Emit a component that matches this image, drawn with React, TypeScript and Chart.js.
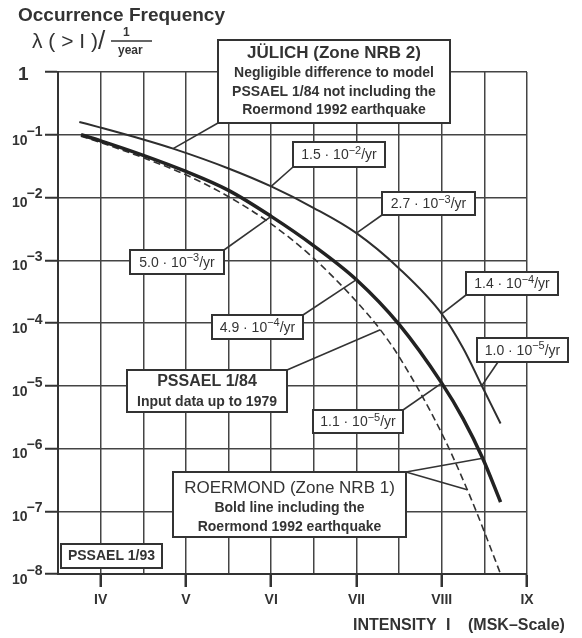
import React, { useEffect, useRef } from "react";
import { Chart, registerables } from "chart.js";

Chart.register(...registerables);

// ---- data ----
const intensityTicks = [4, 5, 6, 7, 8, 9];
const intensityLabels = ["IV", "V", "VI", "VII", "VIII", "IX"];
const decadeTicks = [1, 1e-1, 1e-2, 1e-3, 1e-4, 1e-5, 1e-6, 1e-7, 1e-8];
const decadeExponents = [0, -1, -2, -3, -4, -5, -6, -7, -8];

// JÜLICH (Zone NRB 2)
const julichI = [3.75, 4.0, 4.5, 4.85, 5.5, 6.0, 6.5, 7.0, 7.5, 8.0, 8.25, 8.47, 8.69];
const julichF = [1.6e-1, 1.3e-1, 8.4e-2, 6.0e-2, 2.9e-2, 1.5e-2, 6.8e-3, 2.7e-3, 7.4e-4, 1.4e-4, 4.0e-5, 1.0e-5, 2.5e-6];

// ROERMOND (Zone NRB 1) – bold line
const roermondI = [3.77, 4.0, 4.5, 5.0, 5.5, 6.0, 6.5, 7.0, 7.5, 8.0, 8.25, 8.48, 8.69];
const roermondF = [1.0e-1, 8.0e-2, 4.7e-2, 2.6e-2, 1.3e-2, 5.0e-3, 1.7e-3, 4.9e-4, 9.5e-5, 1.1e-5, 3.0e-6, 7.0e-7, 1.4e-7];

// PSSAEL 1/84 – dashed line
const pssaelI = [3.77, 4.0, 4.5, 5.0, 5.5, 6.0, 6.5, 7.0, 7.28, 7.5, 8.0, 8.3, 8.5, 8.69];
const pssaelF = [9.5e-2, 7.5e-2, 4.3e-2, 2.3e-2, 1.03e-2, 3.8e-3, 1.07e-3, 2.2e-4, 7.8e-5, 2.9e-5, 1.75e-6, 2.2e-7, 4.7e-8, 1.0e-8];

const seriesMap: Record<string, { i: number[]; f: number[] }> = {
  julich: { i: julichI, f: julichF },
  roermond: { i: roermondI, f: roermondF },
  pssael: { i: pssaelI, f: pssaelF },
};

const FONT = '"Liberation Sans", Arial, Helvetica, sans-serif';
const INK = "#333";

// value annotation boxes (text derived from the data value)
const valueBoxes = [
  { series: "julich", index: 5, box: [293, 142, 385, 167], from: [293, 167] },
  { series: "julich", index: 7, box: [382, 192, 475, 215], from: [382, 215] },
  { series: "julich", index: 9, box: [466, 272, 558, 295], from: [466, 295] },
  { series: "julich", index: 11, box: [477, 338, 568, 362], from: [498, 362] },
  { series: "roermond", index: 5, box: [130, 250, 224, 274], from: [224, 250] },
  { series: "roermond", index: 7, box: [212, 315, 303, 339], from: [303, 315] },
  { series: "roermond", index: 9, box: [313, 410, 403, 433], from: [403, 410] },
];

const textBoxes = [
  {
    box: [218, 40, 450, 123],
    lines: [
      { t: "JÜLICH (Zone NRB 2)", font: `bold 17px ${FONT}`, y: 53 },
      { t: "Negligible difference to model", font: `bold 14px ${FONT}`, y: 73 },
      { t: "PSSAEL 1/84 not including the", font: `bold 14px ${FONT}`, y: 92 },
      { t: "Roermond 1992 earthquake", font: `bold 14px ${FONT}`, y: 110 },
    ],
    leaders: [{ from: [218, 123], series: "julich", index: 3 }],
  },
  {
    box: [127, 370, 287, 412],
    lines: [
      { t: "PSSAEL 1/84", font: `bold 16px ${FONT}`, y: 382 },
      { t: "Input data up to 1979", font: `bold 14px ${FONT}`, y: 402 },
    ],
    leaders: [{ from: [287, 370], series: "pssael", index: 8 }],
  },
  {
    box: [173, 472, 406, 537],
    lines: [
      { t: "ROERMOND (Zone NRB 1)", font: `17px ${FONT}`, y: 488 },
      { t: "Bold line including the", font: `bold 14px ${FONT}`, y: 508 },
      { t: "Roermond 1992 earthquake", font: `bold 14px ${FONT}`, y: 527 },
    ],
    leaders: [
      { from: [406, 472], series: "roermond", index: 11 },
      { from: [406, 472], series: "pssael", index: 11 },
    ],
  },
  {
    box: [61, 544, 162, 568],
    lines: [{ t: "PSSAEL 1/93", font: `bold 14px ${FONT}`, y: 556 }],
    leaders: [],
  },
];

type Part = { t: string; font: string; dy: number };

function drawParts(ctx: CanvasRenderingContext2D, parts: Part[], x: number, y: number, align: "left" | "center") {
  let total = 0;
  const widths = parts.map((p) => {
    ctx.font = p.font;
    const w = ctx.measureText(p.t).width;
    total += w;
    return w;
  });
  let cx = align === "center" ? x - total / 2 : x;
  ctx.textAlign = "left";
  ctx.textBaseline = "middle";
  parts.forEach((p, k) => {
    ctx.font = p.font;
    ctx.fillText(p.t, cx, y + p.dy);
    cx += widths[k];
  });
}

function valueParts(v: number): Part[] {
  const [m, e] = v.toExponential(1).split("e");
  const exp = parseInt(e, 10);
  return [
    { t: `${m} · 10`, font: `14px ${FONT}`, dy: 0 },
    { t: `\u2212${Math.abs(exp)}`, font: `11px ${FONT}`, dy: -5 },
    { t: "/yr", font: `14px ${FONT}`, dy: 0 },
  ];
}

const overlayPlugin = {
  id: "overlay",
  afterDraw(chart: any) {
    const ctx: CanvasRenderingContext2D = chart.ctx;
    const xs = chart.scales.x;
    const ys = chart.scales.y;
    const pt = (series: string, index: number) => {
      const s = seriesMap[series];
      return [xs.getPixelForValue(s.i[index]), ys.getPixelForValue(s.f[index])];
    };
    ctx.save();
    ctx.fillStyle = INK;
    ctx.strokeStyle = INK;

    // y tick labels
    decadeTicks.forEach((v, k) => {
      const y = ys.getPixelForValue(v);
      const exp = decadeExponents[k];
      if (exp === 0) {
        drawParts(ctx, [{ t: "1", font: `bold 19px ${FONT}`, dy: 0 }], 18, y + 3, "left");
      } else {
        ctx.font = `bold 14px ${FONT}`;
        const w = ctx.measureText("10").width;
        drawParts(ctx, [{ t: "10", font: `bold 14px ${FONT}`, dy: 0 }], 12, y + 6, "left");
        drawParts(ctx, [{ t: `\u2212${Math.abs(exp)}`, font: `bold 14px ${FONT}`, dy: 0 }], 12 + w - 1, y - 3, "left");
      }
    });

    // y-axis title
    drawParts(ctx, [{ t: "Occurrence Frequency", font: `bold 19px ${FONT}`, dy: 0 }], 18, 16, "left");
    drawParts(ctx, [{ t: "λ ( > I )", font: `21px ${FONT}`, dy: 0 }], 32, 42, "left");
    drawParts(ctx, [{ t: "/", font: `26px ${FONT}`, dy: 0 }], 98, 42, "left");
    drawParts(ctx, [{ t: "1", font: `bold 12px ${FONT}`, dy: 0 }], 123, 33, "left");
    ctx.lineWidth = 1.5;
    ctx.beginPath();
    ctx.moveTo(111, 41);
    ctx.lineTo(152, 41);
    ctx.stroke();
    drawParts(ctx, [{ t: "year", font: `bold 12px ${FONT}`, dy: 0 }], 118, 51, "left");

    // x-axis title
    drawParts(ctx, [{ t: "INTENSITY", font: `bold 16px ${FONT}`, dy: 0 }], 353, 626, "left");
    drawParts(ctx, [{ t: "I", font: `bold 16px ${FONT}`, dy: 0 }], 446, 626, "left");
    drawParts(ctx, [{ t: "(MSK\u2013Scale)", font: `bold 16px ${FONT}`, dy: 0 }], 468, 626, "left");

    // leaders
    ctx.lineWidth = 1.6;
    const leader = (from: number[], to: number[]) => {
      ctx.beginPath();
      ctx.moveTo(from[0], from[1]);
      ctx.lineTo(to[0], to[1]);
      ctx.stroke();
    };
    valueBoxes.forEach((b) => leader(b.from, pt(b.series, b.index)));
    textBoxes.forEach((b) => b.leaders.forEach((l) => leader(l.from, pt(l.series, l.index))));

    // boxes
    const box = (r: number[]) => {
      ctx.fillStyle = "#fff";
      ctx.fillRect(r[0], r[1], r[2] - r[0], r[3] - r[1]);
      ctx.lineWidth = 2;
      ctx.strokeStyle = INK;
      ctx.strokeRect(r[0], r[1], r[2] - r[0], r[3] - r[1]);
      ctx.fillStyle = INK;
    };
    valueBoxes.forEach((b) => {
      box(b.box);
      const v = seriesMap[b.series].f[b.index];
      drawParts(ctx, valueParts(v), (b.box[0] + b.box[2]) / 2, (b.box[1] + b.box[3]) / 2 + 1, "center");
    });
    textBoxes.forEach((b) => {
      box(b.box);
      const cx = (b.box[0] + b.box[2]) / 2;
      b.lines.forEach((l) => drawParts(ctx, [{ t: l.t, font: l.font, dy: 0 }], cx, l.y, "center"));
    });
    ctx.restore();
  },
};

export default function App() {
  const ref = useRef<HTMLCanvasElement | null>(null);
  useEffect(() => {
    if (!ref.current) return;
    const mk = (I: number[], F: number[]) => I.map((x, k) => ({ x, y: F[k] }));
    const chart = new Chart(ref.current, {
      type: "line",
      data: {
        datasets: [
          {
            label: "JÜLICH",
            data: mk(julichI, julichF),
            borderColor: "#2e2e2e",
            borderWidth: 2,
            pointRadius: 0,
            cubicInterpolationMode: "monotone",
          },
          {
            label: "ROERMOND",
            data: mk(roermondI, roermondF),
            borderColor: "#222",
            borderWidth: 3.5,
            pointRadius: 0,
            cubicInterpolationMode: "monotone",
          },
          {
            label: "PSSAEL 1/84",
            data: mk(pssaelI, pssaelF),
            borderColor: "#333",
            borderWidth: 1.6,
            borderDash: [7, 4],
            pointRadius: 0,
            cubicInterpolationMode: "monotone",
          },
        ],
      },
      options: {
        responsive: false,
        animation: false,
        layout: { padding: { top: 72, right: 55, left: 0, bottom: 0 } },
        plugins: { legend: { display: false }, tooltip: { enabled: false } },
        scales: {
          x: {
            type: "linear",
            min: 3.5,
            max: 9,
            afterBuildTicks: (s: any) => {
              const t = [];
              for (let v = 3.5; v <= 9.0001; v += 0.5) t.push({ value: Math.round(v * 10) / 10 });
              s.ticks = t;
            },
            afterFit: (s: any) => {
              s.height = 64;
            },
            ticks: {
              autoSkip: false,
              maxRotation: 0,
              padding: 5,
              color: INK,
              font: { family: FONT, size: 14, weight: "bold" },
              callback: (v: any) => {
                const k = intensityTicks.indexOf(Number(v));
                return k >= 0 ? intensityLabels[k] : "";
              },
            },
            grid: {
              color: "#444",
              lineWidth: 1.5,
              tickLength: 13,
              tickWidth: 2.5,
              tickColor: (c: any) =>
                c.tick && intensityTicks.indexOf(c.tick.value) >= 0 ? INK : "rgba(0,0,0,0)",
            },
            border: { display: true, color: INK, width: 2 },
          },
          y: {
            type: "logarithmic",
            min: 1e-8,
            max: 1,
            afterBuildTicks: (s: any) => {
              s.ticks = decadeTicks.map((v) => ({ value: v }));
            },
            afterFit: (s: any) => {
              s.width = 58;
            },
            ticks: { display: false },
            grid: {
              color: "#444",
              lineWidth: 1.5,
              tickLength: 13,
              tickWidth: 2,
              tickColor: INK,
            },
            border: { display: true, color: INK, width: 2 },
          },
        },
      },
      plugins: [overlayPlugin],
    } as any);
    return () => chart.destroy();
  }, []);
  return (
    <div style={{ position: "absolute", left: 0, top: 0, width: 582, height: 638, background: "#fff" }}>
      <canvas ref={ref} width={582} height={638} />
    </div>
  );
}
